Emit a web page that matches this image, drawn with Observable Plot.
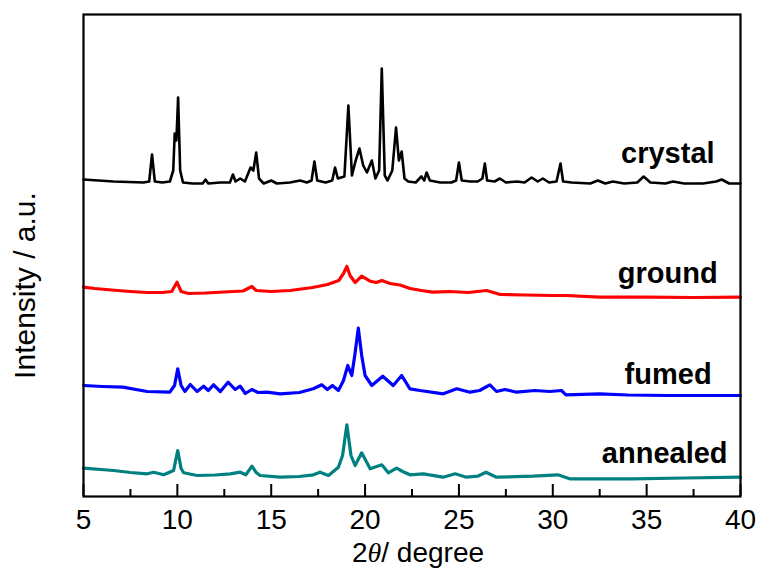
<!DOCTYPE html>
<html>
<head>
<meta charset="utf-8">
<script src="https://cdn.jsdelivr.net/npm/d3@7"></script>
<script src="https://cdn.jsdelivr.net/npm/@observablehq/plot@0.6"></script>
<style>
  html, body { margin: 0; padding: 0; background: #fff; }
  #chart svg { display: block; }
</style>
</head>
<body>
<div id="chart"></div>
<script>
// 2θ (degree) vs intensity (a.u., curves offset vertically as in the figure)
const crystal = [[5.0,317],[5.8,316],[6.6,315],[7.4,314.5],[8.2,314],[8.5,315],[8.65,342],[8.8,315],[9.2,314],[9.6,315],[9.78,326],[9.86,363],[9.95,356],[10.04,399],[10.15,326],[10.3,314],[10.8,313],[11.35,313],[11.5,317],[11.65,313],[12.3,314],[12.8,314],[12.96,322],[13.1,315],[13.35,318],[13.6,315],[13.9,329],[14.05,326],[14.2,344],[14.35,318],[14.6,313],[15.0,316],[15.3,313],[16.0,314],[16.54,316],[16.9,314],[17.15,316],[17.3,335],[17.45,316],[17.9,314],[18.25,316],[18.4,329],[18.55,318],[18.9,320],[19.11,391],[19.3,321],[19.5,336],[19.7,348],[19.9,331],[20.1,324],[20.36,336],[20.55,318],[20.75,326],[20.89,428],[21.05,321],[21.2,316],[21.45,326],[21.65,369],[21.8,336],[21.95,345],[22.1,318],[22.3,315],[22.7,314],[23.0,320],[23.15,316],[23.28,324],[23.45,316],[24.0,314],[24.6,314],[24.85,316],[25.0,334],[25.15,316],[25.6,315],[26.0,315],[26.25,318],[26.38,333],[26.5,316],[26.9,315],[27.18,318],[27.5,314],[28.1,315],[28.5,314],[28.87,319],[29.2,315],[29.47,318],[29.8,314],[30.2,315],[30.41,333],[30.55,315],[31.0,314],[32.0,313],[32.4,316],[32.8,313],[33.2,315],[33.8,313],[34.5,314],[34.84,320],[35.2,314],[36.0,313],[36.4,315],[37.0,313],[38.0,313],[38.7,315],[39.0,317],[39.4,313],[40.0,313]];

const ground = [[5.0,209.3],[5.6,208],[6.5,206.5],[7.5,205],[8.4,204],[9.2,204],[9.7,205],[9.98,214.3],[10.2,205],[10.6,203],[11.5,203.5],[12.5,204.5],[13.5,205.5],[13.97,210],[14.2,206],[15.0,205],[16.0,206],[17.2,209],[18.0,212],[18.6,216],[18.85,223],[19.03,230],[19.2,221],[19.47,214],[19.82,220.3],[20.27,215.3],[20.6,214],[20.89,216],[21.33,213],[21.86,211.5],[22.4,208],[23.0,206],[23.6,204.3],[24.5,205],[25.5,204],[26.47,206],[27.2,202],[28.5,201.5],[30.0,201],[30.7,201],[32.5,199.3],[35.0,199.3],[37.5,199],[40.0,199.3]];

const fumed = [[5.0,111],[6.0,110],[7.1,109.3],[8.39,105],[9.6,104.3],[9.85,111],[10.02,127.7],[10.2,111],[10.4,105],[10.69,112],[11.05,105],[11.4,110.3],[11.65,106],[11.93,111.7],[12.29,105],[12.7,114.3],[13.08,107],[13.35,110.3],[13.62,103],[13.97,107],[14.3,104],[14.77,104.3],[15.48,102.7],[16.5,104],[17.24,107.7],[17.69,111.7],[17.99,107],[18.26,111],[18.58,106],[18.85,116],[19.08,131],[19.29,121],[19.45,141],[19.64,168.3],[19.82,141],[20.0,121],[20.36,111],[20.94,120.3],[21.5,111],[21.95,121],[22.39,107.7],[22.93,106],[24.17,102.7],[24.88,107.7],[25.59,104.3],[26.1,106],[26.65,111.7],[27.0,105],[27.45,107],[28.07,104.3],[29.04,106],[29.84,105],[30.46,106],[30.7,101.7],[32.5,102.7],[34.0,101.5],[36.05,101],[38.0,101],[40.0,101]];

const annealed = [[5.0,28.3],[6.6,26],[7.5,24],[8.39,22.7],[8.74,24.3],[9.27,21.7],[9.8,26],[10.02,46],[10.2,28],[10.34,23.7],[11.05,21],[12.0,21.5],[12.82,22.7],[13.35,24.3],[13.65,21.7],[13.97,30.3],[14.2,24],[14.41,21],[15.48,19.3],[16.5,20],[17.25,21.7],[17.6,24.3],[18.05,21],[18.58,29.3],[18.8,41],[19.03,71.7],[19.25,41],[19.47,31],[19.82,43.7],[20.27,27.7],[20.89,31.7],[21.24,23.7],[21.68,28.3],[22.0,25],[22.39,21.7],[23.1,22.7],[24.15,19.3],[24.8,22.7],[25.4,19.3],[26.0,20.3],[26.44,24.3],[27.0,19.3],[28.94,20.3],[30.27,21.7],[30.9,17.7],[34.26,17.7],[37.0,18.5],[40.0,19.3]];

const seriesNames = ["crystal", "ground", "fumed", "annealed"];
const seriesColors = ["#000000", "#ff0000", "#0000ff", "#008080"];
// label anchor: [2θ at right end of label, intensity at baseline]
const labelX = [38.62, 38.78, 38.46, 39.31];
const labelY = [334, 214, 113, 34];

const majorTicks = [5, 10, 15, 20, 25, 30, 35, 40];
const minorTicks = [7.5, 12.5, 17.5, 22.5, 27.5, 32.5, 37.5];
const xTitle = "2θ/ degree";
const yTitle = "Intensity / a.u.";

const allSeries = [crystal, ground, fumed, annealed];
const rows = allSeries.flatMap((s, k) => s.map(([t, v]) => ({name: seriesNames[k], t, v})));
const blackRows = rows.filter(d => d.name === "crystal");
const colorRows = rows.filter(d => d.name !== "crystal");
const labels = seriesNames.map((n, k) => ({name: n, t: labelX[k], v: labelY[k]}));

const chart = Plot.plot({
  width: 761,
  height: 571,
  marginLeft: 83,
  marginRight: 21,
  marginTop: 14,
  marginBottom: 75,
  style: {fontFamily: "'Liberation Sans', Arial, sans-serif", fontSize: "28px", color: "#000", background: "#fff"},
  x: {domain: [5, 40]},
  y: {domain: [0, 482], axis: null},
  color: {domain: seriesNames, range: seriesColors},
  marks: [
    Plot.line(colorRows, {x: "t", y: "v", z: "name", stroke: "name", strokeWidth: 3.2, strokeLinejoin: "round"}),
    Plot.line(blackRows, {x: "t", y: "v", z: "name", stroke: "name", strokeWidth: 2.6, strokeLinejoin: "round"}),
    Plot.text(labels, {x: "t", y: "v", text: "name", textAnchor: "end", lineAnchor: "bottom", fontWeight: "bold", fontSize: 29, fill: "#000"}),
    Plot.axisX(majorTicks, {tickSize: 0, tickPadding: 13, tickFormat: d => String(d), label: null, fontSize: 28}),
    Plot.axisX(majorTicks, {tickSize: -12, tickFormat: () => "", label: null, strokeWidth: 2}),
    Plot.axisX(minorTicks, {tickSize: -7, tickFormat: () => "", label: null, strokeWidth: 2}),
    Plot.text([xTitle], {frameAnchor: "bottom", dx: 6, dy: 57, text: d => d, textAnchor: "middle", lineAnchor: "middle", fontSize: 28, fill: "#000"}),
    Plot.text([yTitle], {frameAnchor: "left", dx: -58, dy: 30, rotate: -90, text: d => d, textAnchor: "middle", lineAnchor: "middle", fontSize: 30, fill: "#000"}),
    Plot.frame({stroke: "#000", strokeWidth: 2.2})
  ]
});

document.getElementById("chart").appendChild(chart);

// italic theta in the x title
d3.select(chart).selectAll("text").each(function() {
  if (this.textContent === xTitle) {
    const el = d3.select(this);
    el.text(null);
    el.append("tspan").text("2");
    el.append("tspan").attr("font-style", "italic").attr("font-family", "'Liberation Serif', 'DejaVu Serif', serif").text("θ");
    el.append("tspan").text("/ degree");
  }
});
</script>
</body>
</html>
